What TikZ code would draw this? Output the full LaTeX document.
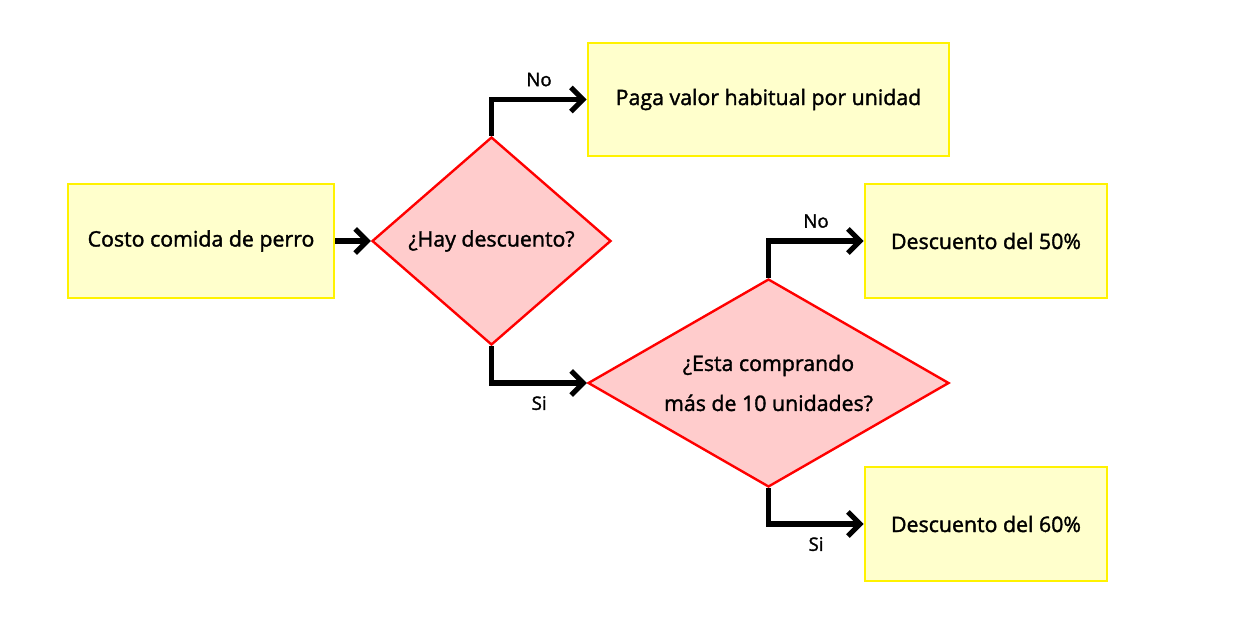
\documentclass[tikz,border=0pt]{standalone}
\usepackage{fontspec}
\setmainfont{Open Sans}[FakeBold=1.2]
\newfontfamily\medfont{Open Sans}[FakeBold=1.6]
\usetikzlibrary{shapes.geometric,arrows.meta}
\definecolor{boxfill}{RGB}{255,255,204}
\definecolor{dfill}{RGB}{255,204,204}
\begin{document}
\begin{tikzpicture}[x=0.75pt,y=-0.75pt,
  box/.style={draw=yellow, fill=boxfill, line width=2.2pt, inner sep=0pt,
    minimum height=114*0.75pt, font=\medfont\fontsize{16}{18}\selectfont},
  dec/.style={diamond, draw=red, fill=dfill, line width=1.8pt, inner sep=0pt,
    minimum height=208*0.75pt, align=center, font=\medfont\fontsize{16}{30}\selectfont},
  arr/.style={line width=3.8pt, -{Straight Barb[length=9pt,width=18pt]}},
  lbl/.style={font=\medfont\fontsize{14}{16}\selectfont, inner sep=0pt}
]
\useasboundingbox (0,0) rectangle (1248,624);
\node[box, minimum width=266*0.75pt] (costo) at (201,241) {Costo comida de perro};
\node[dec, minimum width=239*0.75pt, aspect=1.149] (d1) at (491.5,241) {¿Hay descuento?};
\node[box, minimum width=361*0.75pt, minimum height=113*0.75pt] (paga) at (768.5,99.5) {Paga valor habitual por unidad};
\node[dec, minimum width=361*0.75pt, aspect=1.7356] (d2) at (768.5,383) {¿Esta comprando\\más de 10 unidades?};
\node[box, minimum width=242*0.75pt] (b50) at (986,241) {Descuento del 50\%};
\node[box, minimum width=242*0.75pt] (b60) at (986,524) {Descuento del 60\%};

\draw[arr] (costo) -- (d1);
\draw[arr] (d1.north) |- (paga.west) node[lbl, pos=0.75, above=8pt] {No};
\draw[arr] (d1.south) |- (d2.west) node[lbl, pos=0.75, below=8pt] {Si};
\draw[arr] (d2.north) |- (b50.west) node[lbl, pos=0.75, above=8pt] {No};
\draw[arr] (d2.south) |- (b60.west) node[lbl, pos=0.75, below=8pt] {Si};
\end{tikzpicture}
\end{document}
